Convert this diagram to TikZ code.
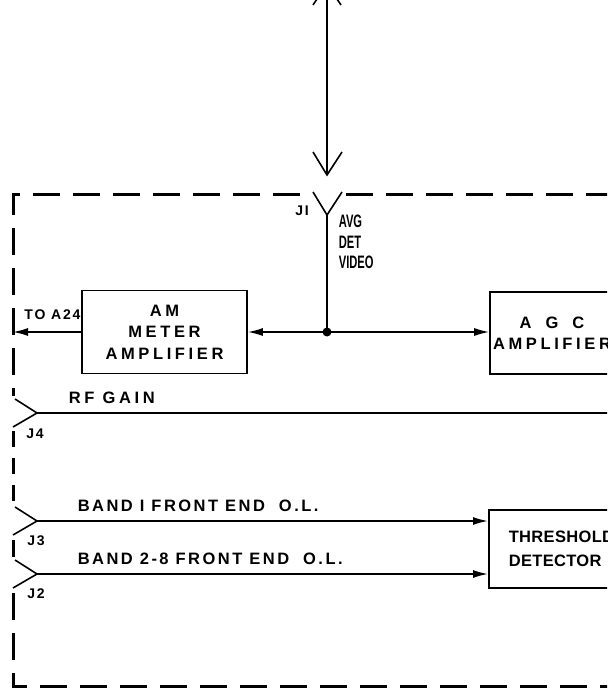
\documentclass[tikz,border=0pt]{standalone}
\usepackage{fontspec}
\setmainfont{Liberation Sans}
\newfontfamily\boxfont[LetterSpace=22]{Liberation Sans Bold}
\newfontfamily\bandfont[LetterSpace=15]{Liberation Sans Bold}
\newfontfamily\thrfont[LetterSpace=2]{Liberation Sans Bold}
\newfontfamily\smlfont[LetterSpace=13]{Liberation Sans Bold}
\newfontfamily\narrowfont[FakeStretch=0.62]{Liberation Sans Bold}
\usetikzlibrary{arrows.meta}
\newcommand\jackin[2]{\coordinate (#1) at (37,#2); \draw[jack] (15,#2-14) -- (#1) -- (13,#2+14);}
\newcommand\wsp{\hspace{7pt}}
\begin{document}
\begin{tikzpicture}[x=1pt,y=-1pt,line width=1.6pt,
  blk/.style={draw, line width=1.6pt, inner sep=0pt, align=center,
    font=\boxfont\fontsize{16.5}{21.5}\selectfont},
  lbl/.style={inner sep=0pt, anchor=west, font=\boxfont\fontsize{16.5}{18}\selectfont},
  band/.style={inner sep=0pt, anchor=west, font=\bandfont\fontsize{16.5}{18}\selectfont},
  sml/.style={inner sep=0pt, font=\smlfont\fontsize{14}{16}\selectfont},
  jl/.style={inner sep=0pt, font=\smlfont\fontsize{14}{16}\selectfont},
  nar/.style={inner sep=0pt, anchor=west, font=\narrowfont\fontsize{18}{18}\selectfont},
  arr/.style={-{Latex[length=15pt,width=8pt]}},
  border/.style={line width=3pt, dash pattern=on 27pt off 13pt},
  jack/.style={line width=1.6pt}]
\useasboundingbox (0,0) rectangle (607,700);
\clip (0,0) rectangle (607,700);

% dashed module outline
\draw[border] (300,195) -- (13,195) -- (13,396);
\draw[border] (346,195) -- (640,195);
\draw[border, dash pattern=on 16pt off 11pt] (13,431) -- (13,503);
\draw[border] (13,540) -- (13,557);
\draw[border] (13,593) -- (13,686) -- (640,686);

% incoming signal
\coordinate (src) at (327,-16);
\coordinate (inV) at (327,175);
\draw (src) -- (inV);
\draw (313,5) -- (src) -- (341,5);
\draw (313,152) -- (inV) -- (342,152);

% J1
\coordinate (j1) at (327,215);
\draw (313,192) -- (j1) -- (342,192);
\node[jl] (j1l) at (302,211) {JI};
\node[nar] (avg) at (338,221) {AVG};
\node[nar] (det) at (338,242) {DET};
\node[nar] (vid) at (338,262) {VIDEO};

% blocks
\node[blk, minimum width=165, minimum height=83] (am) at (164.5,332) {AM\\METER\\AMPLIFIER};
\node[blk, minimum width=124, minimum height=82] (agc) at (552,333) {A\hspace{14pt}G\hspace{14pt}C\\AMPLIFIER};
\node[blk, minimum width=170, minimum height=78, anchor=west, align=left, text width=140, inner xsep=20pt,
  font=\thrfont\fontsize{16.5}{24}\selectfont] (thr) at (488,549) {THRESHOLD\\DETECTOR};

% junction and connections
\coordinate (junc) at (327,332);
\draw (j1) -- (junc);
\fill (junc) circle (4.5);
\draw[arr] (junc) -- (am.east);
\draw[arr] (junc) -- (junc -| agc.west);
\coordinate (a24) at (13,332);
\draw[arr] (am.west) -- (a24);
\node[sml] (a24l) at (52.5,315) {TO A24};

% J4 RF gain
\jackin{j4}{413}
\coordinate (rfend) at (640,413);
\draw (j4) -- (rfend);
\node[lbl] (rfl) at (68,398) {RF GAIN};
\node[jl] (j4l) at (35,434) {J4};

% J3, J2
\jackin{j3}{521}
\jackin{j2}{574}
\draw[arr] (j3) -- (j3 -| thr.west);
\draw[arr] (j2) -- (j2 -| thr.west);
\node[band] (b1) at (77,506) {BAND\wsp I\wsp FRONT\wsp END\wsp\wsp O.L.};
\node[band] (b2) at (77,559) {BAND\wsp 2-8\wsp FRONT\wsp END\wsp\wsp O.L.};
\node[jl] (j3l) at (36,541) {J3};
\node[jl] (j2l) at (36,594) {J2};
\end{tikzpicture}
\end{document}
